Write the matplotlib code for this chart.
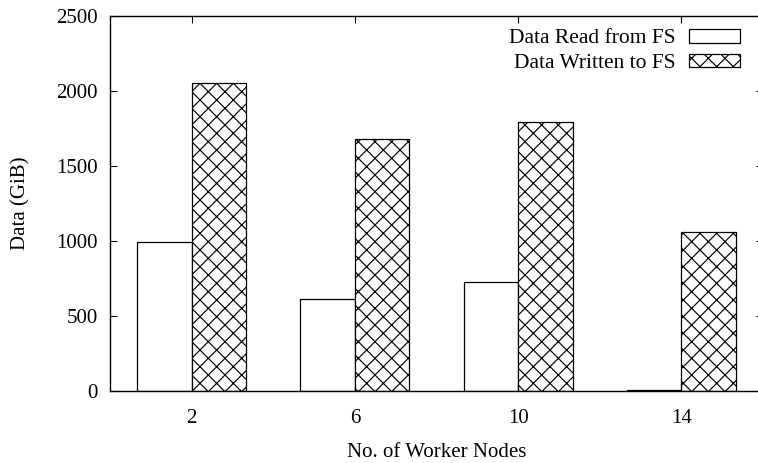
import numpy as np
import matplotlib
matplotlib.use("Agg")
import matplotlib.pyplot as plt

plt.rcParams["font.family"] = ["Liberation Serif", "DejaVu Serif"]
plt.rcParams["hatch.linewidth"] = 0.85

nodes = ["2", "6", "10", "14"]
data_read = [990, 612, 727, 3]
data_written = [2055, 1679, 1793, 1061]

fig = plt.figure(figsize=(7.58, 4.63), dpi=100)
# right edge of the frame falls just outside the picture, as in the original
ax = fig.add_axes([0.1451, 0.1562, 0.8615, 0.8093])

x = np.arange(len(nodes))
w = 1 / 3
ax.bar(x - w / 2, data_read, w, color="white", edgecolor="black",
       linewidth=0.9, label="Data Read from FS")
ax.bar(x + w / 2, data_written, w, color="white", edgecolor="black",
       linewidth=0.9, hatch="xx", label="Data Written to FS")

ax.set_xlim(-0.5, 3.5)
ax.set_ylim(0, 2500)
ax.set_xticks(x)
ax.set_xticklabels(nodes)
ax.set_yticks(range(0, 2501, 500))
ax.tick_params(direction="in", length=5, width=0.8, top=True, right=True,
               labelsize=15)
ax.tick_params(axis="x", pad=13.5)
ax.tick_params(axis="y", pad=9)
for s in ax.spines.values():
    s.set_linewidth(1.0)

ax.set_xlabel("No. of Worker Nodes", fontsize=15, labelpad=10.5)
ax.set_ylabel("Data (GiB)", fontsize=15, labelpad=18.5)

ax.legend(loc="upper right", frameon=False, markerfirst=False, fontsize=15.5,
          handlelength=2.4, handleheight=0.6, handletextpad=0.6,
          labelspacing=0.25, borderaxespad=0.2, bbox_to_anchor=(0.985, 1.0))

fig.savefig("out.png", dpi=100)
